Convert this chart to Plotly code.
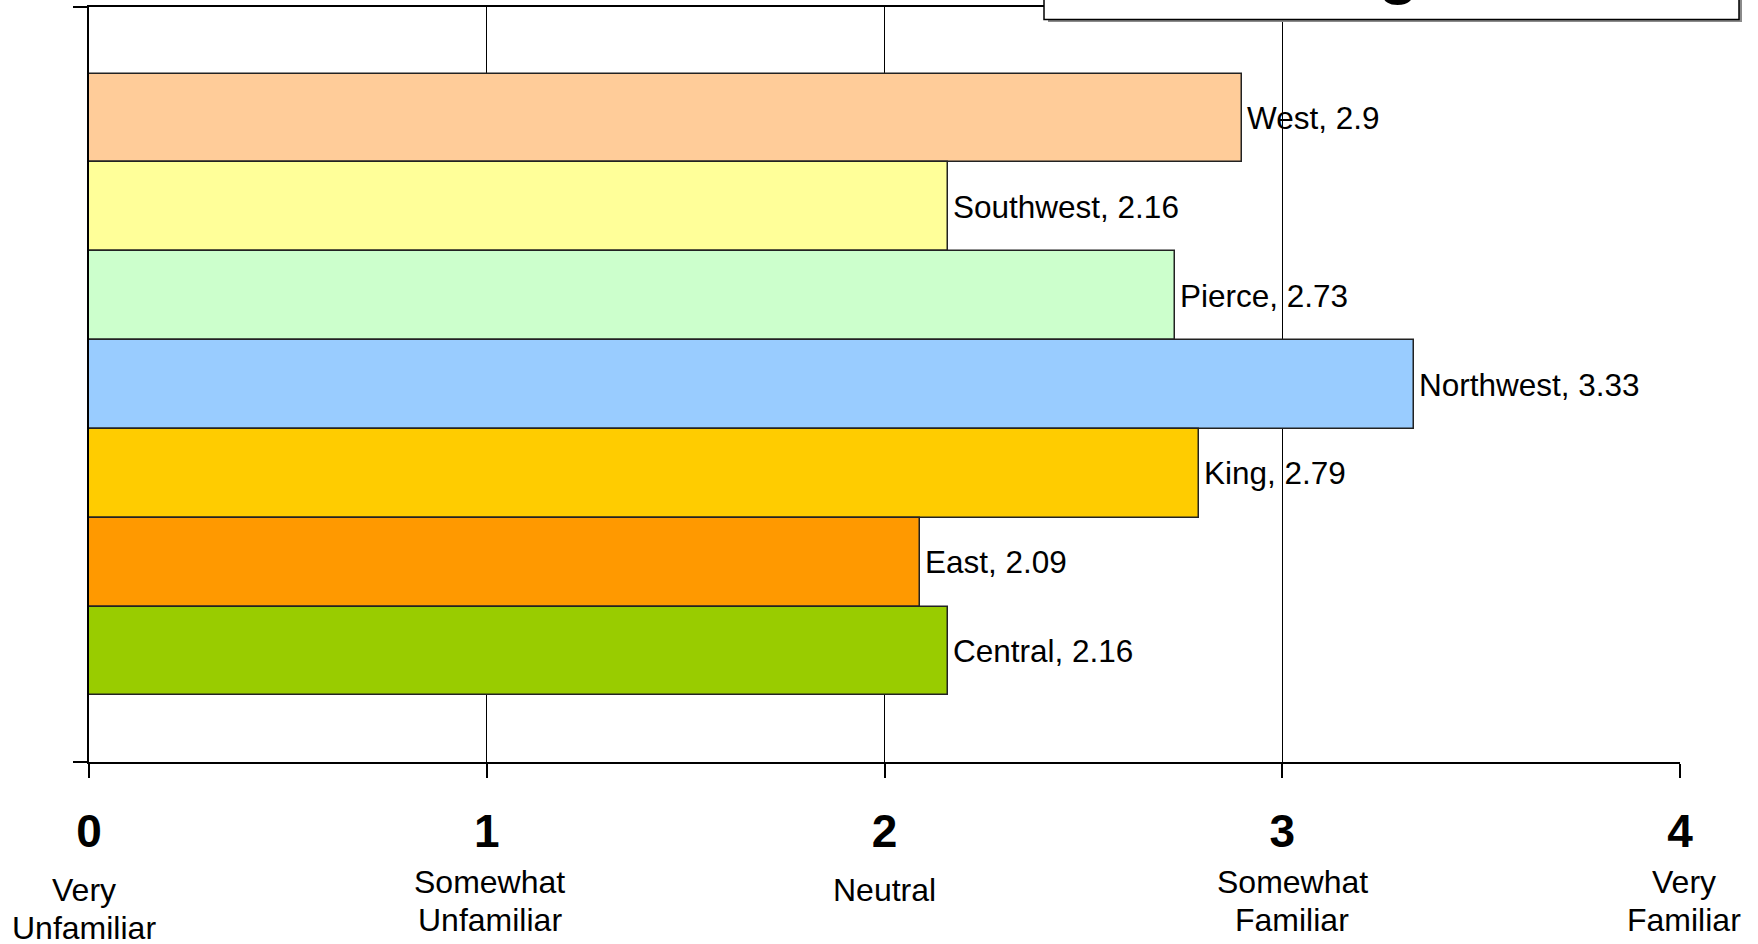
import plotly.graph_objects as go

# ---- data ----
regions = ["West", "Southwest", "Pierce", "Northwest", "King", "East", "Central"]
scores = [2.9, 2.16, 2.73, 3.33, 2.79, 2.09, 2.16]
colors = ["#FFCC99", "#FFFF99", "#CCFFCC", "#99CCFF", "#FFCC00", "#FF9900", "#99CC00"]
tick_values = [0, 1, 2, 3, 4]
tick_numbers = ["0", "1", "2", "3", "4"]
tick_descriptions = [["Very", "Unfamiliar"], ["Somewhat", "Unfamiliar"], ["Neutral"],
                     ["Somewhat", "Familiar"], ["Very", "Familiar"]]
title_text = "All, Average"
page_number = "26"

# ---- style / layout ----
W, H = 1758, 944
ML, MR, MT, MB = 89, 78, 5, 182
PH = H - MT - MB
PW = W - ML - MR
desc_xshift = [-5, 3, 0, 10, 4]
desc_first_line_px = [890, 882, 890, 882, 882]
line_step_px = 38
regular = "Liberation Sans, Arial"


def px_to_paper_y(y_px):
    return (H - MB - y_px) / PH


def px_to_paper_x(x_px):
    return (x_px - ML) / PW


fig = go.Figure()
fig.add_trace(go.Bar(
    x=scores, y=regions, orientation="h",
    marker=dict(color=colors, line=dict(color="#222222", width=1.5)),
    width=1, hoverinfo="x+y", showlegend=False,
))

annotations = []
for r, s in zip(regions, scores):
    annotations.append(dict(
        x=s, y=r, xref="x", yref="y", text=f"{r}, {s}", showarrow=False,
        xanchor="left", yanchor="middle", xshift=3,
        font=dict(family=regular, size=31.5, color="black"),
    ))

for v, lines, dx, y0 in zip(tick_values, tick_descriptions, desc_xshift, desc_first_line_px):
    for i, line in enumerate(lines):
        annotations.append(dict(
            x=v, xref="x", y=px_to_paper_y(y0 + i * line_step_px), yref="paper",
            text=line, showarrow=False, xanchor="center", yanchor="middle", xshift=dx,
            font=dict(family=regular, size=32, color="black"),
        ))

# title text box, mostly above the top edge of the page
shapes = [
    dict(type="rect", xref="paper", yref="paper", layer="above",
         x0=px_to_paper_x(1048), x1=px_to_paper_x(1742),
         y0=px_to_paper_y(20), y1=px_to_paper_y(-80),
         fillcolor="#8a8a8a", line=dict(width=0)),
    dict(type="rect", xref="paper", yref="paper", layer="above",
         x0=px_to_paper_x(1044), x1=px_to_paper_x(1739),
         y0=px_to_paper_y(17.5), y1=px_to_paper_y(-80),
         fillcolor="white", line=dict(color="black", width=1.5)),
]
annotations.append(dict(
    x=px_to_paper_x(1060), xref="paper", xanchor="left",
    y=px_to_paper_y(6), yref="paper", yanchor="bottom",
    text=title_text, showarrow=False, align="left",
    font=dict(family=regular, size=75, color="black"),
))

# page number, mostly cut off at bottom
annotations.append(dict(
    x=px_to_paper_x(1722), xref="paper", xanchor="center",
    y=px_to_paper_y(948), yref="paper", yanchor="top",
    text=page_number, showarrow=False,
    font=dict(family=regular, size=30, color="black"),
))

fig.update_layout(
    width=W, height=H,
    margin=dict(l=ML, r=MR, t=MT, b=MB, pad=0),
    paper_bgcolor="white", plot_bgcolor="white",
    bargap=0,
    showlegend=False,
    annotations=annotations,
    shapes=shapes,
    xaxis=dict(
        range=[0, 4], tickmode="array", tickvals=tick_values, ticktext=tick_numbers,
        tickfont=dict(family=regular, size=46, color="black", weight="bold"),
        ticks="outside", ticklen=14, tickwidth=1.5, tickcolor="black",
        ticklabelstandoff=14,
        showgrid=True, gridcolor="black", gridwidth=1,
        showline=True, linecolor="black", linewidth=2, mirror=True,
        zeroline=False, fixedrange=True,
    ),
    yaxis=dict(
        type="category", categoryorder="array", categoryarray=regions,
        range=[len(regions) - 0.5 + 0.75, -0.5 - 0.75],
        tickmode="array", tickvals=[-1.2499, len(regions) - 0.5 + 0.7499], ticktext=["", ""],
        ticks="outside", ticklen=14, tickwidth=1.5, tickcolor="black",
        showgrid=False, showline=True, linecolor="black", linewidth=2,
        zeroline=False, fixedrange=True,
    ),
)

fig.write_html(
    "out.html",
    config={"displayModeBar": False},
    post_script="document.body.style.margin='0';document.body.style.overflow='hidden';",
)
